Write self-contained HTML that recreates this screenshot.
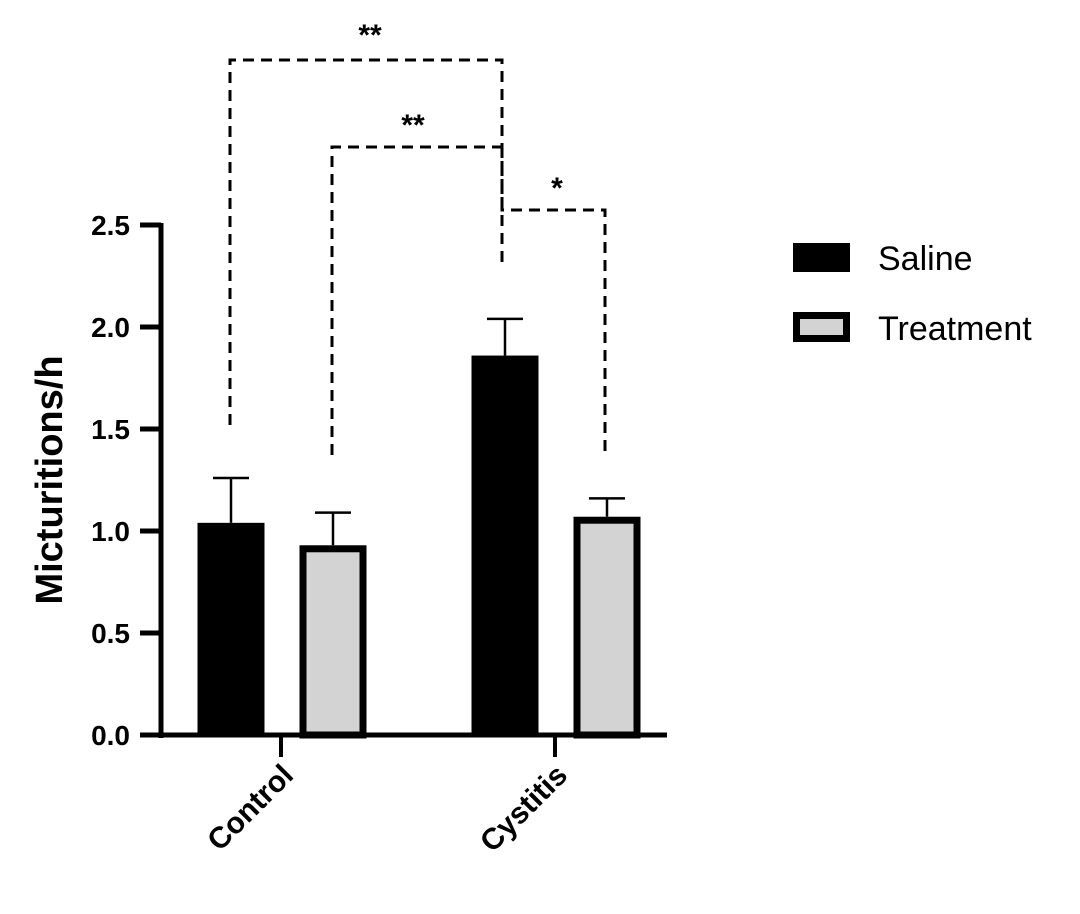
<!DOCTYPE html>
<html><head><meta charset="utf-8"><style>
body{margin:0;background:#fff}
text{font-family:"Liberation Sans",Arial,sans-serif}
</style></head><body>
<svg width="1080" height="909" viewBox="0 0 1080 909">
<g id="plot"></g>
</svg>
<script>
const categories=["Control","Cystitis"];
const seriesNames=["Saline","Treatment"];
const salineValues=[1.04,1.86];
const salineErrors=[0.22,0.18];
const treatmentValues=[0.93,1.07];
const treatmentErrors=[0.16,0.09];
const yTicks=[0,0.5,1.0,1.5,2.0,2.5];
const yTickLabels=["0.0","0.5","1.0","1.5","2.0","2.5"];
const sigStars=["**","**","*"];

const NS="http://www.w3.org/2000/svg";
const g=document.getElementById('plot');
const y0=735,scale=204,axX=161,axEnd=667;
const yS=v=>y0-v*scale;
const catX=[281,555];
const barW=67,off=[-50,52];
function el(t,a,p){const e=document.createElementNS(NS,t);for(const k in a)e.setAttribute(k,a[k]);(p||g).appendChild(e);return e;}

// bars
const vals=[salineValues,treatmentValues],errs=[salineErrors,treatmentErrors];
const tops=[[],[]];
for(let s=0;s<2;s++){for(let c=0;c<categories.length;c++){
  const cx=catX[c]+off[s],v=vals[s][c],e=errs[s][c];
  const ey=yS(v+e);
  const eb=el('line',{x1:cx,x2:cx,y1:yS(v),y2:ey,stroke:'#000','stroke-width':2.5});
  
  
  const cap=el('line',{x1:cx-18,x2:cx+18,y1:ey,y2:ey,stroke:'#000','stroke-width':2.5});
  
  
  let r;
  if(s===0){r=el('rect',{x:cx-barW/2,y:yS(v),width:barW,height:y0-yS(v),fill:'#000'});}
  else{r=el('rect',{x:cx-barW/2+3.5,y:yS(v)+3.5,width:barW-7,height:y0-yS(v)-3.5,fill:'#d3d3d3',stroke:'#000','stroke-width':7});}
  
  
  tops[s][c]=ey;
}}
// axes
const ya=el('line',{x1:axX,x2:axX,y1:yS(2.5)-2,y2:y0+3,stroke:'#000','stroke-width':5});


const xa=el('line',{x1:axX-2,x2:axEnd,y1:y0,y2:y0,stroke:'#000','stroke-width':5});


yTicks.forEach((t,i)=>{
  const tk=el('line',{x1:axX-21,x2:axX,y1:yS(t),y2:yS(t),stroke:'#000','stroke-width':5});
  
  
  const tx=el('text',{x:axX-31,y:yS(t)+10,'text-anchor':'end','font-size':28,'font-weight':'bold'});
  tx.textContent=yTickLabels[i];
  
  
});
categories.forEach((c,i)=>{
  const tk=el('line',{x1:catX[i],x2:catX[i],y1:y0,y2:y0+22,stroke:'#000','stroke-width':4});
  
  
  const tx=el('text',{x:0,y:0,'text-anchor':'end','font-size':30,'font-weight':'bold',transform:`translate(${catX[i]+14},${y0+42}) rotate(-45)`});
  tx.textContent=c;
  
  
});
const yt=el('text',{x:0,y:0,'text-anchor':'middle','font-size':38,'font-weight':'bold',transform:'translate(62,480) rotate(-90)'});
yt.textContent='Micturitions/h';



// significance brackets
const dash={stroke:'#000','stroke-width':3,'stroke-dasharray':'11,7',fill:'none'};
function path(d,name){const p=el('path',Object.assign({d},dash));}
const xs=catX[0]+off[0]-17, xt=catX[0]+off[1]-35+2, xc=catX[1]+off[0]-20+4, xct=catX[1]+off[1]-2;
path(`M230 425 V60 H502 V262`,'significance-bracket-1');
path(`M332 455 V147 H502`,'significance-bracket-2');
path(`M502 147 V210 H605 V455`,'significance-bracket-3');
[[370,45],[413,135],[557,198]].forEach((p,i)=>{
  const t=el('text',{x:p[0],y:p[1],'text-anchor':'middle','font-size':30,'font-weight':'bold'});
  t.textContent=sigStars[i];
  
  
});

// legend
const l1=el('rect',{x:793,y:243,width:57,height:29,fill:'#000'});


const l2=el('rect',{x:796.5,y:315.5,width:50,height:23,fill:'#d3d3d3',stroke:'#000','stroke-width':7});


[[seriesNames[0],270],[seriesNames[1],340]].forEach(p=>{
  const t=el('text',{x:878,y:p[1],'font-size':34});
  t.textContent=p[0];
  
  
});
</script>
</body></html>
